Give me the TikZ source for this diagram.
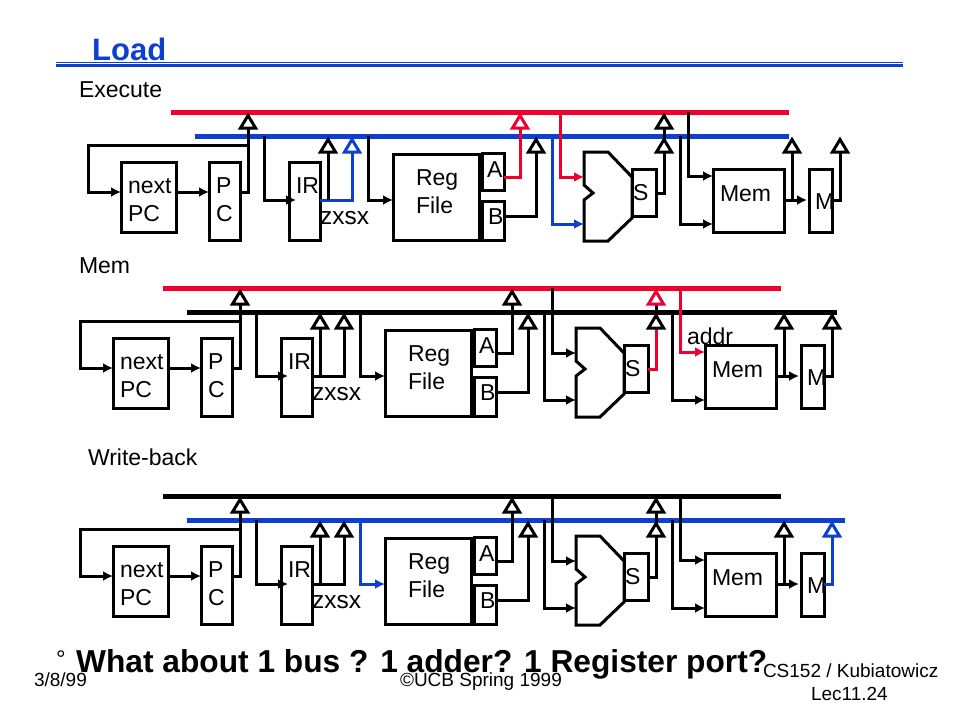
\documentclass[tikz,border=0pt]{standalone}
\usepackage{fontspec}
\setmainfont{Liberation Sans}
\usetikzlibrary{arrows.meta}
\definecolor{busred}{HTML}{F0002D}
\definecolor{busblue}{HTML}{0D3FD0}
\tikzset{
  x=1pt,y=-1pt,
  lbl/.style={anchor=base west,inner sep=0pt,outer sep=0pt,font=\fontsize{23}{28}\selectfont},
  small/.style={anchor=base west,inner sep=0pt,outer sep=0pt,font=\fontsize{19}{23}\selectfont},
  box/.style={draw=black,fill=white,line width=3pt,outer sep=0pt,inner sep=0pt,rectangle},
  wire/.style={line width=3pt,line join=miter},
  arrowwire/.style={wire,-{Latex[length=10pt,width=10pt]}},
  bus/.style={line width=5pt},
  tribuf/.style={line width=3pt,fill=white,line join=miter}
}
\newcommand{\tri}[4]{% name, x, top y, colour
  \coordinate (#1) at (#2,#3+15);
  \draw[tribuf,draw=#4] (#2,#3+2.5) -- (#2-7.5,#3+15) -- (#2+7.5,#3+15) -- cycle;
}
\newcommand{\stage}[4]{% prefix, xshift, yshift, low bus end
 \begin{scope}[shift={(#2,#3)}]
  \coordinate (#1top) at (0,112);
  \coordinate (#1low) at (0,136);
  % buses
  \draw[bus,draw=cTop] (#1top -| 171,0) -- (#1top -| 789,0);
  \draw[bus,draw=cLow] (#1low -| 195,0) -- (#1low -| #4,0);
  % boxes
  \node[box,minimum width=55pt,minimum height=70pt] (#1next) at (148.5,197) {};
  \node[box,minimum width=31pt,minimum height=78pt] (#1pc) at (224.5,201) {};
  \node[box,minimum width=31pt,minimum height=78pt] (#1ir) at (304.5,201) {};
  \node[box,minimum width=86pt,minimum height=86pt] (#1reg) at (436,197) {};
  \node[box,minimum width=22pt,minimum height=37pt] (#1a) at (493,172) {};
  \node[box,minimum width=22pt,minimum height=39pt] (#1b) at (493,220.5) {};
  \node[box,minimum width=24pt,minimum height=47pt] (#1s) at (644,192.5) {};
  \node[box,minimum width=71pt,minimum height=63pt] (#1mem) at (748.5,200.5) {};
  \node[box,minimum width=23pt,minimum height=63pt] (#1m) at (820.5,200.5) {};
  \draw[box] (584,152) -- (608,152) -- (632,177) -- (632,218) -- (608,241) -- (584,241)
     -- (584,200) -- (593,193) -- (584,185) -- cycle;
  \coordinate (#1alua) at (584,177);
  \coordinate (#1alub) at (584,224);
  % wires
  \draw[wire] (#1pc.east |- 0,192) -| (248,128) coordinate (#1pcj);
  \draw[arrowwire] (248,145) -| (88,192) -- (#1next.west |- 0,192);
  \draw[arrowwire] (#1next.east |- 0,192) -- (#1pc.west |- 0,192);
  \draw[arrowwire] (#1low -| 264,0) |- (296,200);
  \draw[wire,draw=cImm] (#1ir.east |- 0,200) -| (352,152);
  \draw[wire] (328,200) -- (328,152);
  \draw[arrowwire,draw=cReg,color=cReg] (#1low -| 368,0) |- (#1reg.west |- 0,200);
  \draw[wire,draw=cA] (#1a.east |- 0,177) -| (520,128);
  \draw[wire] (#1b.east |- 0,216) -| (536,152);
  \draw[arrowwire,draw=cAluA,color=cAluA] (#1top -| 560,0) |- (#1alua);
  \draw[arrowwire,draw=cAluB,color=cAluB] (#1low -| 552,0) |- (#1alub);
  \draw[wire] (664,152) -- (664,128);
  \draw[wire,draw=cS] (#1s.east |- 0,193) -| (664,152);
  \draw[arrowwire,draw=cMemA,color=cMemA] (#1top -| 688,0) |- (#1mem.west |- 0,176);
  \draw[arrowwire] (#1low -| 680,0) |- (#1mem.west |- 0,224);
  \draw[arrowwire] (#1mem.east |- 0,200) -- (807,200);
  \draw[wire] (792,200) -- (792,152);
  \draw[wire,draw=cM] (#1m.east |- 0,200) -| (840,152);
  % tristate buffers
  \tri{#1tpc}{248}{113}{black}
  \tri{#1tz}{328}{137}{black}
  \tri{#1ts}{352}{137}{cImm}
  \tri{#1ta}{520}{113}{cA}
  \tri{#1tb}{536}{137}{black}
  \tri{#1tst}{664}{113}{cSt}
  \tri{#1tsl}{664}{137}{black}
  \tri{#1tmem}{792}{137}{black}
  \tri{#1tm}{840}{137}{cM}
  % labels
  \node[lbl] (#1l1) at (128,193) {next};
  \node[lbl] (#1l2) at (128,221) {PC};
  \node[lbl] (#1l3) at (216,193) {P};
  \node[lbl] (#1l4) at (216,221) {C};
  \node[lbl] (#1l5) at (296,193) {IR};
  \node[lbl,font=\fontsize{24.5}{28}\selectfont] (#1l6) at (320,224) {zxsx};
  \node[lbl] (#1l7) at (416,185) {Reg};
  \node[lbl] (#1l8) at (416,213) {File};
  \node[lbl] (#1l9) at (487,177) {A};
  \node[lbl] (#1l10) at (488,224) {B};
  \node[lbl] (#1l11) at (633,200) {S};
  \node[lbl] (#1l12) at (720,201) {Mem};
  \node[lbl] (#1l13) at (815,209) {M};
 \end{scope}
}
\begin{document}
\begin{tikzpicture}
\useasboundingbox (0,0) rectangle (960,720);
\fill[white] (0,0) rectangle (960,720);
% title
\node[anchor=base west,inner sep=0pt,text=busblue,font=\fontsize{31}{36}\selectfont\bfseries] (title) at (92,60) {Load};
\coordinate (ruleL) at (56,65.5);
\coordinate (ruleR) at (903,65.5);
\coordinate (ruleLb) at (56,62.3);
\coordinate (ruleRb) at (903,62.3);
\draw[line width=2.4pt,draw=busblue] (ruleL) -- (ruleR);
\draw[line width=1pt,draw=busblue] (ruleLb) -- (ruleRb);
% section labels
\node[lbl] (lexec) at (79,97) {Execute};
\node[lbl] (lmem) at (79,273) {Mem};
\node[lbl] (lwb) at (88,465) {Write-back};
% stage 1
\colorlet{cTop}{busred}\colorlet{cLow}{busblue}\colorlet{cImm}{busblue}\colorlet{cReg}{black}
\colorlet{cA}{busred}\colorlet{cAluA}{busred}\colorlet{cAluB}{busblue}\colorlet{cS}{black}
\colorlet{cSt}{black}\colorlet{cMemA}{black}\colorlet{cM}{black}
\stage{e}{0}{0}{789}
% stage 2
\colorlet{cTop}{busred}\colorlet{cLow}{black}\colorlet{cImm}{black}\colorlet{cReg}{black}
\colorlet{cA}{black}\colorlet{cAluA}{black}\colorlet{cAluB}{black}\colorlet{cS}{busred}
\colorlet{cSt}{busred}\colorlet{cMemA}{busred}\colorlet{cM}{black}
\stage{d}{-8}{176}{845}
\node[lbl] (addr) at (687,344) {addr};
% stage 3
\colorlet{cTop}{black}\colorlet{cLow}{busblue}\colorlet{cImm}{black}\colorlet{cReg}{busblue}
\colorlet{cA}{black}\colorlet{cAluA}{black}\colorlet{cAluB}{black}\colorlet{cS}{black}
\colorlet{cSt}{black}\colorlet{cMemA}{black}\colorlet{cM}{busblue}
\stage{w}{-8}{384}{853}
% footer
\node[small] (date) at (34,686) {3/8/99};
\node[small] (copy) at (400,686) {©UCB Spring 1999};
\node[small] (course) at (763,677) {CS152 / Kubiatowicz};
\node[small] (lec) at (811,700) {Lec11.24};
\node[anchor=base west,inner sep=0pt,font=\fontsize{24}{28}\selectfont] (bullet) at (56,667) {°};
\node[anchor=base west,inner sep=0pt,font=\fontsize{31.7}{36}\selectfont\bfseries] (q) at (76,672) {What about 1 bus ? 1 adder? 1 Register port?};
\end{tikzpicture}
\end{document}
